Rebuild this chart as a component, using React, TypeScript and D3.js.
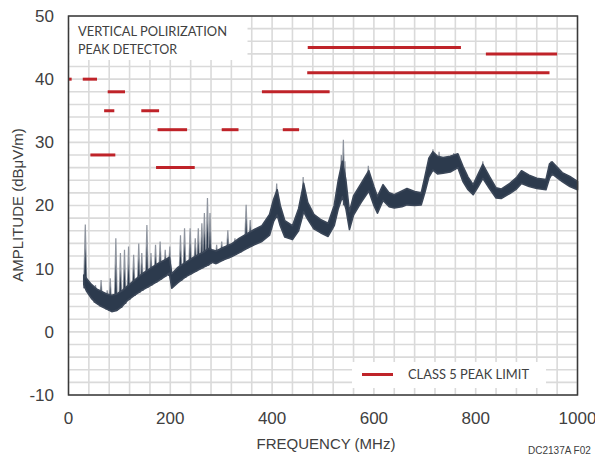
import { useMemo } from 'react';
import * as d3 from 'd3';

// measured noise floor band (dark trace), MHz / dBuV/m
const BAND_FREQ = [30, 35, 45, 55, 65, 75, 85, 95, 105, 115, 130, 145, 160, 175, 190, 198, 203, 215, 230, 250, 265, 275, 282, 290, 305, 320, 335, 350, 365, 380, 395, 403, 410, 416, 425, 440, 452, 462, 470, 482, 495, 510, 522, 530, 538, 545, 552, 560, 575, 590, 600, 607, 618, 630, 640, 655, 665, 680, 693, 700, 708, 716, 725, 736, 750, 765, 775, 785, 795, 805, 814, 827, 840, 850, 867, 880, 890, 905, 920, 938, 945, 950, 970, 985, 1000];
const BAND_LOW = [7.5, 6.5, 5.3, 4.5, 4.0, 3.6, 3.2, 3.4, 4.0, 4.9, 5.8, 6.6, 7.3, 8.0, 8.8, 9.3, 6.9, 7.8, 8.7, 9.6, 10.2, 10.6, 11.0, 10.8, 11.4, 11.9, 12.5, 13.2, 13.8, 14.3, 15.3, 17.5, 18.5, 16.8, 15.0, 14.6, 16.0, 19.0, 17.8, 16.3, 15.7, 15.1, 16.8, 19.5, 21.4, 19.5, 16.2, 18.5, 20.5, 22.3, 20.0, 18.8, 20.8, 19.8, 19.6, 19.8, 20.1, 20.0, 20.1, 22.0, 24.5, 25.6, 25.0, 25.1, 25.3, 26.0, 23.8, 22.5, 21.7, 23.0, 24.3, 22.7, 21.2, 21.1, 21.9, 22.6, 23.5, 23.0, 22.7, 22.5, 24.3, 25.0, 23.8, 23.0, 22.5];
const BAND_HIGH = [9.0, 8.5, 7.5, 6.8, 6.4, 6.0, 5.8, 6.0, 6.5, 7.2, 8.2, 9.2, 10.0, 10.8, 11.4, 11.8, 9.2, 10.2, 11.0, 12.0, 12.6, 13.2, 13.0, 12.8, 13.4, 13.9, 14.8, 15.5, 16.2, 16.8, 18.6, 21.0, 22.5, 20.0, 17.6, 16.8, 19.5, 23.5, 20.5, 18.6, 17.8, 17.2, 20.0, 24.0, 27.0, 24.0, 19.0, 21.5, 23.5, 25.5, 23.0, 21.4, 23.3, 22.0, 21.7, 22.3, 22.7, 22.2, 22.0, 24.5, 27.5, 28.5, 27.8, 27.6, 27.8, 28.2, 26.2, 24.5, 23.3, 25.0, 26.5, 24.6, 22.8, 22.6, 23.5, 24.4, 25.5, 24.8, 24.3, 24.1, 26.6, 26.9, 25.2, 24.6, 23.8];

// individual peaks poking out of the band
const SPIKE_FREQ = [33, 53, 64, 76, 82, 93, 102, 110, 118, 128, 138, 144, 154, 162, 171, 180, 190, 199, 220, 228, 239, 249, 255, 262, 267, 273, 278, 291, 301, 313, 327, 337, 349, 357, 409, 461, 536, 540, 543, 589, 716, 728, 757, 814, 948];
const SPIKE_PEAK = [17.0, 7.4, 8.2, 6.6, 8.5, 14.8, 12.5, 13.0, 13.5, 12.2, 14.0, 12.5, 16.9, 12.5, 13.8, 14.3, 13.0, 13.5, 15.3, 16.4, 16.4, 14.8, 16.4, 17.2, 18.8, 21.2, 18.8, 13.8, 14.3, 16.1, 14.8, 14.3, 20.1, 17.7, 23.5, 24.5, 28.0, 30.4, 27.0, 26.3, 28.9, 28.5, 28.3, 27.0, 27.0];

// class 5 peak limit segments
const LIMIT_START = [0.5, 28, 77, 70, 143, 175, 301, 421, 43, 172, 380, 470, 469, 820];
const LIMIT_END = [6.2, 56, 111, 90, 178, 233, 334, 453, 92, 248, 513, 771, 945, 960];
const LIMIT_LEVEL = [40, 40, 38, 35, 35, 32, 32, 32, 28, 26, 38, 45, 41, 44];

const X_TICKS = [0, 200, 400, 600, 800, 1000];
const Y_TICKS = [-10, 0, 10, 20, 30, 40, 50];

const NAVY = '#2c3a4d';
const SPIKE = '#8f959f';
const RED = '#bf2329';
const TEXT = '#404040';
const GRID = '#dadada';
const NARROW = '"Liberation Sans Narrow", "Arial Narrow", "Liberation Sans", sans-serif';
const LABEL_FONT = 'Lato, "Open Sans", sans-serif';

export default function App() {
  const width = 595;
  const height = 455;
  const x = d3.scaleLinear().domain([0, 1000]).range([68.5, 577.5]);
  const y = d3.scaleLinear().domain([-10, 50]).range([395, 16]);

  const bandPath = useMemo(() => {
    const pts = BAND_FREQ.map((f, i) => [f, BAND_LOW[i], BAND_HIGH[i]] as [number, number, number]);
    return d3
      .area<[number, number, number]>()
      .x((d) => x(d[0]))
      .y0((d) => y(d[1]))
      .y1((d) => y(d[2]))(pts);
  }, []);

  // band edges at a frequency, for spike bases
  const bandAt = (f: number, arr: number[]) => {
    const i = Math.max(1, Math.min(d3.bisectLeft(BAND_FREQ, f), BAND_FREQ.length - 1));
    const t = (f - BAND_FREQ[i - 1]) / (BAND_FREQ[i] - BAND_FREQ[i - 1]);
    return arr[i - 1] + (arr[i] - arr[i - 1]) * Math.max(0, Math.min(1, t));
  };

  const vGrid = d3.range(0, 1001, 40);
  const hGrid = d3.range(-10, 51, 2);

  return (
    <svg
      width={width}
      height={height}
      style={{ position: 'absolute', left: 0, top: 0, background: '#fff' }}
    >
      <g stroke={GRID} strokeWidth={1.6}>
        {vGrid.map((v) => (
          <line key={`v${v}`} x1={x(v)} x2={x(v)} y1={y(50)} y2={y(-10)} />
        ))}
        {hGrid.map((v) => (
          <line key={`h${v}`} x1={x(0)} x2={x(1000)} y1={y(v)} y2={y(v)} />
        ))}
      </g>

      {/* title box */}
      <rect x={x(0) + 1} y={y(50) + 1} width={178} height={43} fill="#fff" />
      <text x={78} y={36} fontFamily={LABEL_FONT} fontSize={13.5} fill={TEXT} textLength={149} lengthAdjust="spacingAndGlyphs">
        VERTICAL POLIRIZATION
      </text>
      <text x={78} y={54} fontFamily={LABEL_FONT} fontSize={13.5} fill={TEXT} textLength={99} lengthAdjust="spacingAndGlyphs">
        PEAK DETECTOR
      </text>

      {/* limits */}
      <g stroke={RED} strokeWidth={3}>
        {LIMIT_LEVEL.map((lv, i) => (
          <line key={i} x1={x(LIMIT_START[i])} x2={x(LIMIT_END[i])} y1={y(lv)} y2={y(lv)} />
        ))}
      </g>

      {/* spikes: gray needles with a dark core */}
      {SPIKE_FREQ.map((f, i) => {
        const cx = x(f);
        const base = y(bandAt(f, BAND_LOW));
        const top = y(SPIKE_PEAK[i]);
        const mid = y(bandAt(f, BAND_HIGH));
        return (
          <g key={i}>
            <path d={`M${cx - 2.2},${base} L${cx - 0.6},${top} L${cx + 0.6},${top} L${cx + 2.2},${base} Z`} fill={SPIKE} />
            <path d={`M${cx - 1.6},${base} L${cx},${mid + (top - mid) * 0.55} L${cx + 1.6},${base} Z`} fill={NAVY} />
          </g>
        );
      })}
      <path d={bandPath ?? undefined} fill={NAVY} stroke="#3b4759" strokeWidth={1.6} strokeLinejoin="round" />

      {/* legend */}
      <rect x={352} y={362} width={194} height={26} fill="#fff" />
      <line x1={362} x2={393} y1={374.5} y2={374.5} stroke={RED} strokeWidth={3} />
      <text x={408} y={378.5} fontFamily={LABEL_FONT} fontSize={13} fill={TEXT} textLength={121} lengthAdjust="spacingAndGlyphs">
        CLASS 5 PEAK LIMIT
      </text>

      <rect x={x(0)} y={y(50)} width={x(1000) - x(0)} height={y(-10) - y(50)} fill="none" stroke="#3a3a3a" strokeWidth={1.5} />

      {Y_TICKS.map((t) => (
        <text key={t} x={54} y={y(t)} dy="0.35em" textAnchor="end" fontFamily={NARROW} fontSize={17} fill={TEXT}>
          {t}
        </text>
      ))}
      {X_TICKS.map((t) => (
        <text key={t} x={x(t)} y={418} dy="0.35em" textAnchor="middle" fontFamily={NARROW} fontSize={17} fill={TEXT}>
          {t}
        </text>
      ))}
      <text x={326} y={449} textAnchor="middle" fontFamily={NARROW} fontSize={15} fill={TEXT}>
        FREQUENCY (MHz)
      </text>
      <text
        transform={`translate(23,205) rotate(-90)`}
        textAnchor="middle"
        fontFamily={NARROW}
        fontSize={15}
        fill={TEXT}
      >
        AMPLITUDE (dBμV/m)
      </text>
      <text x={528} y={454} fontFamily={NARROW} fontSize={10} fill={TEXT}>
        DC2137A F02
      </text>
    </svg>
  );
}
